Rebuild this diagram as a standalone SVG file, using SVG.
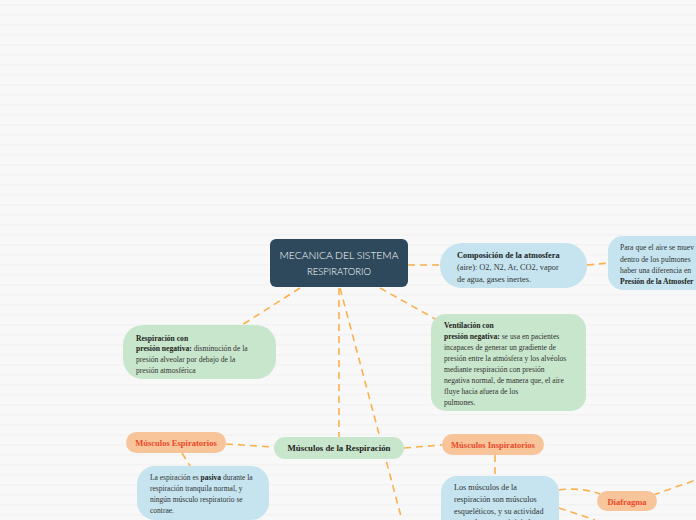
<svg xmlns="http://www.w3.org/2000/svg" width="696" height="520" viewBox="0 0 696 520">
<defs>
<pattern id="stripes" x="0" y="0" width="10" height="10" patternUnits="userSpaceOnUse">
<rect width="10" height="10" fill="#f8f8f8"/>
<rect y="4" width="10" height="1.5" fill="#f3f3f3"/>
</pattern>
</defs>
<style>
.c{fill:none;stroke:#fbb04c;stroke-width:1.6;stroke-dasharray:7 5}
.t{font-family:"Liberation Serif","Times New Roman",serif;font-size:8.3px;fill:#333}
.b{font-weight:bold;fill:#222}
.blue{fill:#c5e4ef}
.green{fill:#c8e6cc}
.peach{fill:#f8c49a}
.lab{font-family:"Liberation Serif","Times New Roman",serif;font-weight:bold;font-size:8.5px;fill:#e84a2a;text-anchor:middle}
</style>
<rect width="696" height="520" fill="url(#stripes)"/>
<g id="connectors">
<path class="c" d="M408 265 L440 265"/>
<path class="c" d="M587 265 L608 263"/>
<path class="c" d="M300 288 L242 325"/>
<path class="c" d="M380 288 L437 320"/>
<path class="c" d="M339 288 L339 437"/>
<path class="c" d="M340 288 L402 520"/>
<path class="c" d="M226 444 L274 447"/>
<path class="c" d="M404 448 L442 445"/>
<path class="c" d="M182 453 L190 466"/>
<path class="c" d="M495 455 L495 476"/>
<path class="c" d="M559 490 Q580 487 600 494"/>
<path class="c" d="M653 495 L696 480"/>
<path class="c" d="M559 508 L595 520"/>
</g>
<g id="central">
<rect x="270" y="239" width="138" height="48" rx="6" fill="#2e495b"/>
<text x="339" y="259" font-family="Lato,'Liberation Sans',sans-serif" font-size="10.5" font-weight="300" fill="#fff" text-anchor="middle" textLength="119" lengthAdjust="spacingAndGlyphs">MECANICA DEL SISTEMA</text>
<text x="339" y="275" font-family="Lato,'Liberation Sans',sans-serif" font-size="10.5" font-weight="300" fill="#fff" text-anchor="middle" textLength="64" lengthAdjust="spacingAndGlyphs">RESPIRATORIO</text>
</g>
<g id="composicion">
<rect class="blue" x="440" y="243" width="147" height="45" rx="22"/>
<text class="t" font-size="8.8"><tspan class="b" x="457" y="258">Composición de la atmosfera</tspan><tspan x="457" y="270">(aire): O2, N2, Ar, CO2, vapor</tspan><tspan x="457" y="282">de agua, gases inertes.</tspan></text>
</g>
<g id="presion-atm">
<rect class="blue" x="608" y="236" width="110" height="54" rx="15"/>
<text class="t" style="font-size:7.6px"><tspan x="620" y="250">Para que el aire se muev</tspan><tspan x="620" y="262">dentro de los pulmones</tspan><tspan x="620" y="273">haber una diferencia en</tspan><tspan class="b" x="620" y="284">Presión de la Atmosfer</tspan></text>
</g>
<g id="respiracion-negativa">
<rect class="green" x="123" y="325" width="153" height="54" rx="20"/>
<text class="t" style="font-size:7.6px"><tspan class="b" x="136" y="341">Respiración con</tspan><tspan class="b" x="136" y="351">presión negativa:</tspan><tspan> disminución de la</tspan><tspan x="136" y="362">presión alveolar por debajo de la</tspan><tspan x="136" y="373">presión atmosférica</tspan></text>
</g>
<g id="ventilacion">
<rect class="green" x="431" y="314" width="155" height="97" rx="15"/>
<text class="t" style="font-size:7.6px"><tspan class="b" x="444" y="328">Ventilación con</tspan><tspan class="b" x="444" y="339">presión negativa:</tspan><tspan> se usa en pacientes</tspan><tspan x="444" y="350">incapaces de generar un gradiente de</tspan><tspan x="444" y="361">presión entre la atmósfera y los alvéolos</tspan><tspan x="444" y="372">mediante respiración con presión</tspan><tspan x="444" y="383">negativa normal, de manera que, el aire</tspan><tspan x="444" y="394">fluye hacia afuera de los</tspan><tspan x="444" y="405">pulmones.</tspan></text>
</g>
<g id="musculos-respiracion">
<rect class="green" x="274" y="437" width="130" height="22" rx="11"/>
<text class="t b" x="339" y="451" text-anchor="middle" style="font-size:8.8px">Músculos de la Respiración</text>
</g>
<g id="musculos-espiratorios">
<rect class="peach" x="126" y="432" width="100" height="21" rx="10.5"/>
<text class="lab" x="176" y="446">Músculos Espiratorios</text>
</g>
<g id="musculos-inspiratorios">
<rect class="peach" x="442" y="434" width="102" height="21" rx="10.5"/>
<text class="lab" x="493" y="448">Músculos Inspiratorios</text>
</g>
<g id="espiracion">
<rect class="blue" x="137" y="466" width="132" height="54" rx="18"/>
<text class="t" style="font-size:7.5px"><tspan x="150" y="480">La espiración es </tspan><tspan class="b">pasiva</tspan><tspan> durante la</tspan><tspan x="150" y="491">respiración tranquila normal, y</tspan><tspan x="150" y="502">ningún músculo respiratorio se</tspan><tspan x="150" y="513">contrae.</tspan></text>
</g>
<g id="musculos-esqueleticos">
<rect class="blue" x="441" y="476" width="118" height="60" rx="16"/>
<text class="t" style="font-size:8.2px"><tspan x="454" y="490">Los músculos de la</tspan><tspan x="454" y="502">respiración son músculos</tspan><tspan x="454" y="514">esqueléticos, y su actividad</tspan><tspan x="454" y="525">normalmente es iniciada por</tspan></text>
</g>
<g id="diafragma">
<rect class="peach" x="597" y="491" width="60" height="20" rx="10"/>
<text class="lab" x="627" y="505">Diafragma</text>
</g>
</svg>
